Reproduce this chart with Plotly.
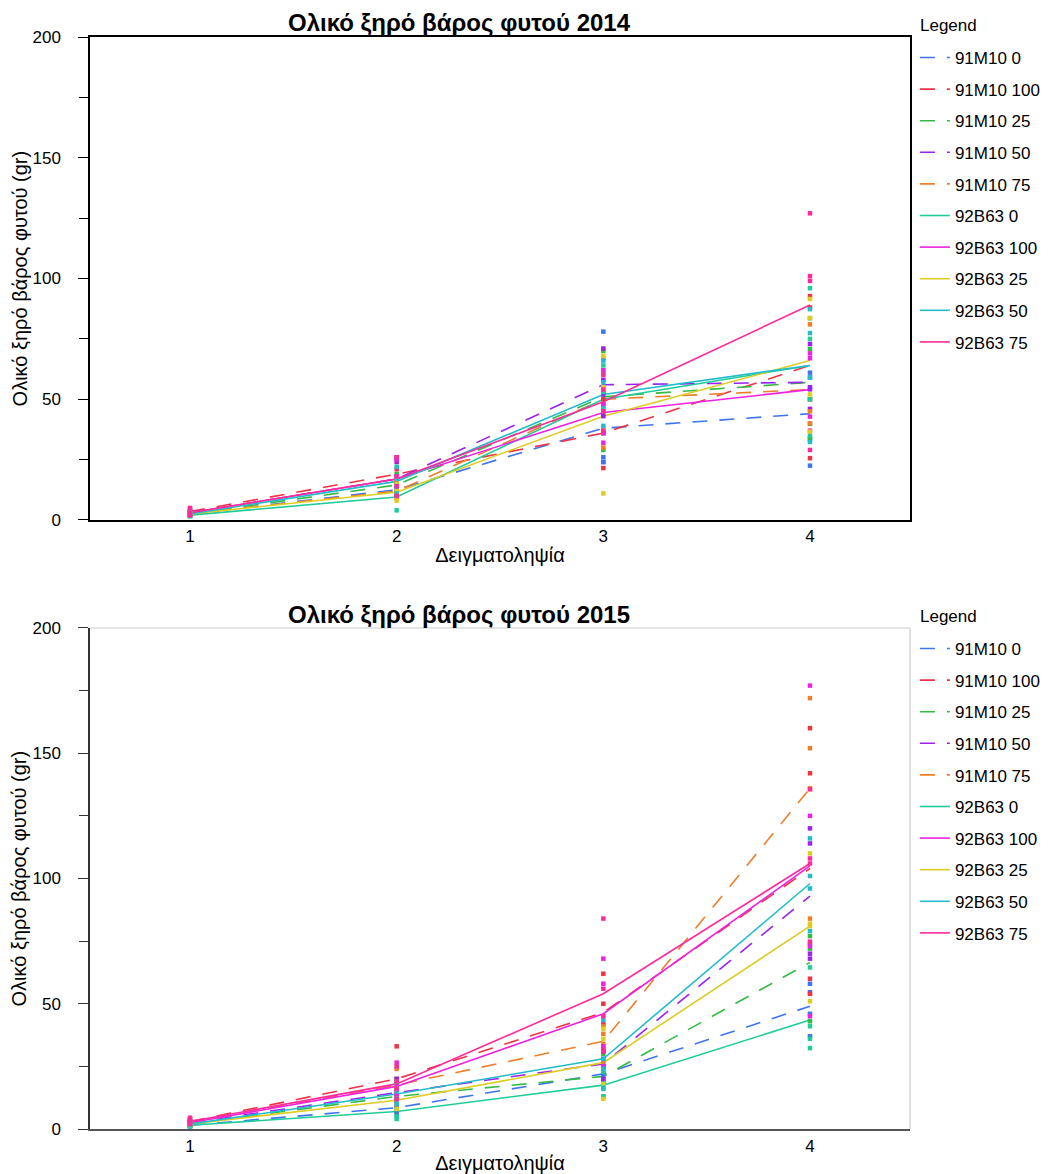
import plotly.graph_objects as go

# Treatment groups (hybrid + nitrogen level) and their styling
groups = ["91M10 0", "91M10 100", "91M10 25", "91M10 50", "91M10 75",
          "92B63 0", "92B63 100", "92B63 25", "92B63 50", "92B63 75"]
colors = ["#3f74f0", "#ee3344", "#33bb44", "#9922ee", "#ee7f2a",
          "#1fcc9a", "#ee22e0", "#ddcc22", "#22bccc", "#ff2a99"]
dashed = [True] * 5 + [False] * 5
samplings = [1, 2, 3, 4]
x_ticks = [1, 2, 3, 4]
y_ticks = [0, 50, 100, 150, 200]

# Mean total dry weight per group at each sampling (gr)
mean14 = [
    [2.5, 12.5, 38, 44],
    [3.5, 19, 36, 64],
    [2.5, 14.5, 51, 57],
    [3, 17, 56, 57],
    [2.5, 12, 50, 54],
    [2, 9.5, 50, 64],
    [3, 17, 44.5, 54],
    [2.5, 11.5, 43, 66],
    [2.5, 16, 52, 64],
    [3, 17, 49, 89],
]
mean15 = [
    [1.5, 8.5, 22, 49],
    [3, 20, 46.5, 104],
    [2, 13, 21, 66.5],
    [2.5, 14.5, 26, 93],
    [2.5, 17.5, 35, 136],
    [1.5, 7, 17.5, 43.5],
    [2.5, 17, 46, 105],
    [2, 11.5, 26.5, 81],
    [2, 14, 28, 98],
    [3, 18, 54, 106],
]

# Individual plant measurements, one list per group, per sampling
rep14_s1 = [[2, 3, 2.5, 2.5], [4.5, 3, 3.5, 3], [3, 2, 2.5, 2.5], [3.5, 2.5, 3, 3], [3, 2, 2.5, 2.5],
            [2.5, 1.5, 2, 2], [3.5, 2.5, 3, 3], [3, 2, 2.5, 2.5], [3, 2, 2.5, 2.5], [5, 2, 3, 2]]
rep14_s2 = [[16, 13, 11, 10], [26, 21, 16, 13], [19, 15, 13, 11], [24, 18, 15, 11], [16, 13, 10, 9],
            [13, 11, 10, 4], [25, 18, 14, 11], [15, 12, 11, 8], [22, 17, 14, 11], [26, 18, 14, 10]]
rep14_s3 = [[78, 26, 24, 24], [50, 36, 36, 21.5], [70, 61, 44, 29], [71, 58, 52, 43], [67, 55, 48, 30],
            [64, 53, 47, 36], [62, 48, 36, 32], [68, 55, 38, 11], [66, 57, 46, 39], [60, 54, 45, 37]]
rep14_s4 = [[22.5, 33.5, 59, 61], [25.6, 92.7, 88, 50], [83.6, 70.8, 39.8, 33.8], [72.9, 55, 46, 54.1],
            [81, 50, 45, 40], [96, 75, 50, 35], [69, 67, 42.8, 37], [91.5, 83.6, 52, 36.6],
            [87.3, 77.4, 59, 32.3], [127, 101, 99, 29]]

rep15_s1 = [[1, 2, 1.5, 1.5], [4, 2.5, 3, 2.5], [2.5, 1.5, 2, 2], [3, 2, 2.5, 2.5], [3.5, 2, 2.5, 2],
            [1, 2, 1.5, 1.5], [3, 2, 2.5, 2.5], [2.5, 1.5, 2, 2], [2.5, 1.5, 2, 2], [4.5, 2, 3, 2.5]]
rep15_s2 = [[12, 9, 7, 6], [33, 20, 15, 12], [18, 14, 11, 9], [20, 16, 13, 9], [24, 19, 15, 12],
            [11, 8, 5, 4], [26.5, 17, 14, 10.5], [16, 12, 10, 8], [19, 15, 12, 10], [25, 19, 16, 12]]
rep15_s3 = [[25, 23, 21, 19], [62, 50, 42, 32], [30, 23, 18, 13], [31, 28, 25, 20], [41, 38, 34, 27],
            [23, 18, 16, 13], [68, 58, 33, 25], [40, 36, 18, 12], [43.5, 28, 24, 16.5], [84, 56, 45, 31]]
rep15_s4 = [[58, 54.6, 46, 37], [160, 142, 60, 54], [77, 74, 72, 43], [120, 114, 70, 68],
            [172, 152, 136, 84], [64.5, 41, 36, 32.3], [177, 125, 73, 45], [110, 82, 81, 51],
            [116, 101, 96, 79], [135.6, 108, 106, 74.8]]

FONT = "Liberation Sans, Arial, sans-serif"
fig = go.Figure()


def add_year(means, reps, xa, ya, legend, prefix):
    for i, g in enumerate(groups):
        fig.add_trace(go.Scatter(
            x=samplings, y=means[i], mode="lines", name=g,
            line=dict(color=colors[i], width=1.6,
                      dash="15px,12px" if dashed[i] else "solid"),
            xaxis=xa, yaxis=ya, legend=legend, legendgroup=prefix + str(i),
            hoverinfo="skip"))
    for i, g in enumerate(groups):
        xs, ys = [], []
        for s, rs in zip(samplings, reps):
            for v in rs[i]:
                xs.append(s)
                ys.append(v)
        fig.add_trace(go.Scatter(
            x=xs, y=ys, mode="markers", showlegend=False,
            marker=dict(symbol="square", size=4.5, color=colors[i], line=dict(width=0)),
            xaxis=xa, yaxis=ya, name=g))


add_year(mean14, [rep14_s1, rep14_s2, rep14_s3, rep14_s4], "x", "y", "legend", "a")
add_year(mean15, [rep15_s1, rep15_s2, rep15_s3, rep15_s4], "x2", "y2", "legend2", "b")

TOP_DOM = [0.5577, 1.0]
BOT_DOM = [0.0, 0.4588]
XR = [0.516, 4.484]


def xaxis_cfg(anchor, color, width, mirror):
    return dict(domain=[0, 1], range=XR, anchor=anchor, tickvals=x_ticks,
                showline=True, linecolor=color, linewidth=width, mirror=mirror,
                ticks="", showgrid=False, zeroline=False, automargin=False,
                tickfont=dict(size=17, color="black"),
                title=dict(text="Δειγματοληψία", font=dict(size=20), standoff=3))


def yaxis_cfg(dom, anchor, color, mirror):
    return dict(domain=dom, range=[0, 200], anchor=anchor, tickvals=y_ticks,
                showline=True, linecolor=color, linewidth=1.5, mirror=mirror,
                ticks="outside", ticklen=10, tickcolor=color, tickwidth=1,
                minor=dict(dtick=25, ticks="outside", ticklen=9, tickcolor=color),
                ticklabelstandoff=14, automargin=False,
                showgrid=False, zeroline=False, tickfont=dict(size=17, color="black"))


legend_common = dict(xanchor="left", yanchor="top", bgcolor="rgba(0,0,0,0)",
                     font=dict(size=17, family=FONT, color="black"),
                     itemwidth=30, tracegroupgap=6.5)

fig.update_layout(
    width=1057, height=1174,
    margin=dict(l=90, r=147, t=37, b=45, autoexpand=False),
    paper_bgcolor="white", plot_bgcolor="white",
    font=dict(family=FONT, color="black"),
    xaxis=xaxis_cfg("y", "black", 1.5, True),
    yaxis=yaxis_cfg(TOP_DOM, "x", "black", True),
    xaxis2=xaxis_cfg("y2", "#555555", 2.2, False),
    yaxis2=yaxis_cfg(BOT_DOM, "x2", "#333333", False),
    legend=dict(x=1.006, y=0.9973, **legend_common),
    legend2=dict(x=1.006, y=0.4561, **legend_common),
    showlegend=True,
)

# Light frame on the top and right of the 2015 panel
fig.add_shape(type="line", xref="x2 domain", yref="y2 domain", x0=1, x1=1, y0=0, y1=1,
              line=dict(color="#cccccc", width=1.2))
fig.add_shape(type="line", xref="x2 domain", yref="y2 domain", x0=0, x1=1, y0=1, y1=1,
              line=dict(color="#cccccc", width=1.2))

# Panel titles, y-axis titles and legend headings
for year, ytitle, ycenter, yleg in [("2014", 1.0137, 0.7789, 1.0101),
                                    ("2015", 0.4716, 0.2294, 0.4689)]:
    fig.add_annotation(text="<b>Ολικό ξηρό βάρος φυτού " + year + "</b>",
                       xref="paper", yref="paper", x=0.45, y=ytitle,
                       xanchor="center", yanchor="middle", showarrow=False,
                       font=dict(size=24, family=FONT, color="black"))
    fig.add_annotation(text="Ολικό ξηρό βάρος φυτού (gr)", textangle=-90,
                       xref="paper", yref="paper", x=-0.0854, y=ycenter,
                       xanchor="center", yanchor="middle", showarrow=False,
                       font=dict(size=20, family="Liberation Sans Narrow, Arial Narrow, sans-serif",
                                 color="black"))
    fig.add_annotation(text="Legend", xref="paper", yref="paper", x=1.0098, y=yleg,
                       xanchor="left", yanchor="middle", showarrow=False,
                       font=dict(size=17, family=FONT, color="black"))

fig.write_html("out.html")
